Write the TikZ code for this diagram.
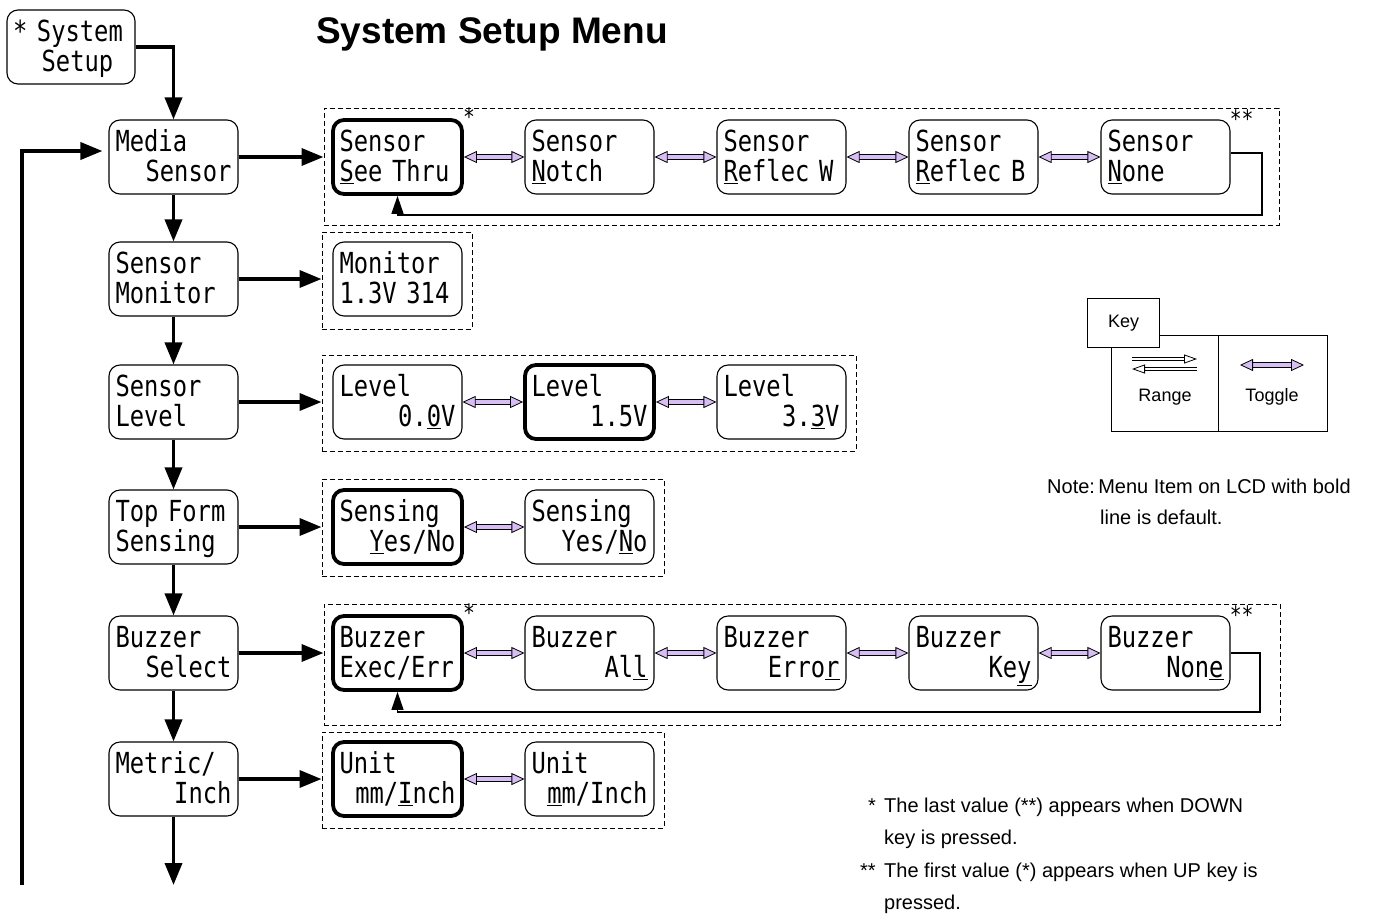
\documentclass[tikz,border=0pt]{standalone}
\usepackage{fontspec}
\setmainfont{Liberation Sans}
\setmonofont{DejaVu Sans Mono}[FakeStretch=0.82]
\usetikzlibrary{arrows.meta, fit}
\definecolor{lavender}{RGB}{214,190,245}

\begin{document}
\begin{tikzpicture}[
  x=1pt, y=-1pt,
  menu/.style={rectangle, draw=black, line width=1.1pt, rounded corners=11pt,
               minimum width=129pt, minimum height=74pt, inner sep=0pt,
               text width=116pt, align=left,
               font=\ttfamily\fontsize{29}{30}\selectfont,
               execute at begin node={\rule{0pt}{30pt}},
               execute at end node={\rule[-11pt]{0pt}{11pt}}},
  default/.style={menu, line width=3.8pt},
  group/.style={draw, dash pattern=on 5pt off 3pt, line width=1pt, inner sep=0pt},
  arrow/.style={-{Triangle[length=22pt, width=17pt]}, line width=3.6pt},
  back/.style={-{Triangle[length=18pt, width=12pt]}, line width=1.4pt},
  toggle/.style={{Triangle[length=13pt, width=12pt, line width=0.8pt, fill=lavender]}-{Triangle[length=13pt, width=12pt, line width=0.8pt, fill=lavender]},
                 double=lavender, double distance=3.6pt, line width=0.8pt},
  rangearrow/.style={-{Triangle[length=13pt, width=9pt, line width=0.8pt, fill=white]},
                double=white, double distance=2.8pt, line width=0.8pt},
  star/.style={font=\ttfamily\fontsize{24}{24}\selectfont, inner sep=0pt},
  keycell/.style={draw, line width=1pt, inner sep=0pt},
  keytxt/.style={font=\fontsize{18}{20}\selectfont, inner sep=0pt},
  note/.style={font=\fontsize{20}{24}\selectfont, inner sep=0pt}
]
\useasboundingbox (0,0) rectangle (1375,913);

\node[font=\bfseries\fontsize{37}{40}\selectfont] (title) at (492,34) {System Setup Menu};

% main column
\node[menu, minimum width=128pt] (sys) at (71,47) {* System\\\phantom{xx}Setup};
\node[menu] (ms)   at (173.5,157) {Media\\\hfill Sensor};
\node[menu] (smon) at (173.5,279) {Sensor\\Monitor};
\node[menu] (slev) at (173.5,402) {Sensor\\Level};
\node[menu] (tfs)  at (173.5,527) {Top Form\\Sensing};
\node[menu] (bsel) at (173.5,653) {Buzzer\\\hfill Select};
\node[menu] (metr) at (173.5,779) {Metric/\\\hfill Inch};
\coordinate (endc) at (173.5,885);
\coordinate (loopb) at (22,885);

\draw[arrow] (sys.east) -| (ms.north);
\draw[arrow] (ms.south) -- (smon.north);
\draw[arrow] (smon.south) -- (slev.north);
\draw[arrow] (slev.south) -- (tfs.north);
\draw[arrow] (tfs.south) -- (bsel.north);
\draw[arrow] (bsel.south) -- (metr.north);
\draw[arrow] (metr.south) -- (endc);
\draw[arrow, shorten >=6pt] (loopb) |- ([yshift=6pt]ms.west);

% groups
\node[group, fit={(324,108) (1279,225)}] (g1) {};
\node[group, fit={(322,232) (472,329)}] (g2) {};
\node[group, fit={(322,355) (856,451)}] (g3) {};
\node[group, fit={(322,479) (664,576)}] (g4) {};
\node[group, fit={(324,604) (1280,725)}] (g5) {};
\node[group, fit={(322,732) (664,828)}] (g6) {};

\draw[arrow] (ms) -- (ms -| g1.west);
\draw[arrow] (smon) -- (smon -| g2.west);
\draw[arrow] (slev) -- (slev -| g3.west);
\draw[arrow] (tfs) -- (tfs -| g4.west);
\draw[arrow] (bsel) -- (bsel -| g5.west);
\draw[arrow] (metr) -- (metr -| g6.west);

% media sensor
\node[default] (see)   at (397.5,157) {Sensor\\\underline{S}ee Thru};
\node[menu]    (notch) at (589.5,157) {Sensor\\\underline{N}otch};
\node[menu]    (reflw) at (781.5,157) {Sensor\\\underline{R}eflec W};
\node[menu]    (reflb) at (973.5,157) {Sensor\\\underline{R}eflec B};
\node[menu]    (snone) at (1165.5,157) {Sensor\\\underline{N}one};
\node[star, anchor=south west] at ([xshift=-1pt, yshift=-8pt]see.north east) {*};
\node[star, anchor=south west] at ([xshift=-1pt, yshift=-8pt]snone.north east) {**};
\draw[toggle] (see) -- (notch);
\draw[toggle] (notch) -- (reflw);
\draw[toggle] (reflw) -- (reflb);
\draw[toggle] (reflb) -- (snone);
\coordinate (r1) at (1262,215);
\draw[back] ([yshift=4pt]snone.east) -| (r1) -| (see.south);

% monitor
\node[menu] (mon) at (397.5,279) {Monitor\\1.3V 314};

% level
\node[menu]    (lv0)  at (397.5,402) {Level\\\hfill 0.\underline{0}V};
\node[default] (lv15) at (589.5,402) {Level\\\hfill 1.5V};
\node[menu]    (lv33) at (781.5,402) {Level\\\hfill 3.\underline{3}V};
\draw[toggle] (lv0) -- (lv15);
\draw[toggle] (lv15) -- (lv33);

% top form
\node[default] (syes) at (397.5,527) {Sensing\\\hfill\underline{Y}es/No};
\node[menu]    (sno)  at (589.5,527) {Sensing\\\hfill Yes/\underline{N}o};
\draw[toggle] (syes) -- (sno);

% buzzer
\node[default] (bee)   at (397.5,653) {Buzzer\\Exec/Err};
\node[menu]    (ball)  at (589.5,653) {Buzzer\\\hfill Al\underline{l}};
\node[menu]    (berr)  at (781.5,653) {Buzzer\\\hfill Erro\underline{r}};
\node[menu]    (bkey)  at (973.5,653) {Buzzer\\\hfill Ke\underline{y}};
\node[menu]    (bnone) at (1165.5,653) {Buzzer\\\hfill Non\underline{e}};
\node[star, anchor=south west] at ([xshift=-1pt, yshift=-8pt]bee.north east) {*};
\node[star, anchor=south west] at ([xshift=-1pt, yshift=-8pt]bnone.north east) {**};
\draw[toggle] (bee) -- (ball);
\draw[toggle] (ball) -- (berr);
\draw[toggle] (berr) -- (bkey);
\draw[toggle] (bkey) -- (bnone);
\coordinate (r5) at (1260,712);
\draw[back] (bnone.east) -| (r5) -| (bee.south);

% units
\node[default] (uinch) at (397.5,779) {Unit\\\hfill mm/\underline{I}nch};
\node[menu]    (umm)   at (589.5,779) {Unit\\\hfill\underline{m}m/Inch};
\draw[toggle] (uinch) -- (umm);

% key
\node[keycell, minimum width=107pt, minimum height=96pt, anchor=north west] (rcell) at (1111,335) {};
\node[keycell, minimum width=109pt, minimum height=96pt, anchor=north west] (tcell) at (1218,335) {};
\node[keycell, fill=white, minimum width=72pt, minimum height=49pt, anchor=north west,
      font=\fontsize{18}{20}\selectfont] (key) at (1087,298) {Key};
\coordinate (ra) at (1132,359);
\coordinate (rb) at (1197,359);
\coordinate (rc) at (1197,369);
\coordinate (rd) at (1132,369);
\draw[rangearrow] (ra) -- (rb);
\draw[rangearrow] (rc) -- (rd);
\node[keytxt] (rlab) at (1165,397) {Range};
\coordinate (ta) at (1240,365);
\coordinate (tb) at (1304,365);
\draw[toggle] (ta) -- (tb);
\node[keytxt] (tlab) at (1272,397) {Toggle};

% notes
\node[note, anchor=base west] (note1) at (1047,493) {Note:\,Menu Item on LCD with bold};
\node[note, anchor=base west] (note2) at (1100,524) {line is default.};
\node[note, anchor=base west] (fn1m) at (868,812) {*};
\node[note, anchor=base west] (fn1a) at (884,812) {The last value (**) appears when DOWN};
\node[note, anchor=base west] (fn1b) at (884,844) {key is pressed.};
\node[note, anchor=base west] (fn2m) at (860,877) {**};
\node[note, anchor=base west] (fn2a) at (884,877) {The first value (*) appears when UP key is};
\node[note, anchor=base west] (fn2b) at (884,909) {pressed.};
\end{tikzpicture}
\end{document}
